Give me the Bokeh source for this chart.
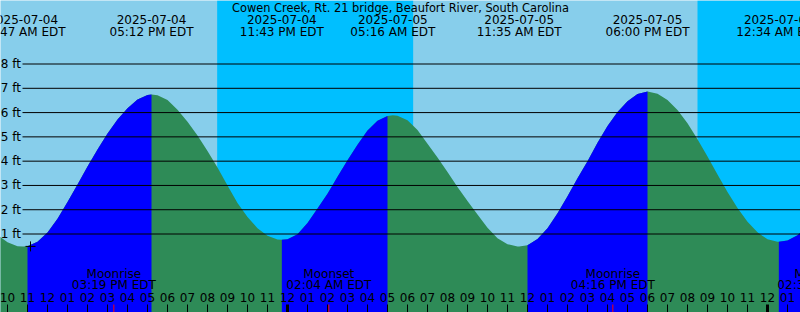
from datetime import datetime
import numpy as np
from bokeh.plotting import figure
from bokeh.models import Range1d
from bokeh.embed import file_html
from bokeh.resources import INLINE
from bokeh.core.properties import value

# ---------------- data ----------------
title_text = "Cowen Creek, Rt. 21 bridge, Beaufort River, South Carolina"

tide_times = ["2025-07-04 10:47", "2025-07-04 17:12", "2025-07-04 23:43",
              "2025-07-05 05:16", "2025-07-05 11:35", "2025-07-05 18:00",
              "2025-07-06 00:34"]
tide_heights = [0.49, 6.74, 0.76, 5.89, 0.49, 6.87, 0.68]

curve_start = "2025-07-04 09:30"
curve_step_minutes = 30
curve_heights = [
    0.97, 0.66, 0.50, 0.50, 0.68, 1.06, 1.63, 2.32, 3.04, 3.78, 4.48, 5.14,
    5.72, 6.18, 6.54, 6.72, 6.71, 6.52, 6.12, 5.62, 5.06, 4.42, 3.74, 3.00,
    2.28, 1.70, 1.24, 0.93, 0.77, 0.78, 0.99, 1.45, 2.05, 2.66, 3.36, 4.04,
    4.68, 5.26, 5.66, 5.86, 5.87, 5.68, 5.28, 4.72, 4.15, 3.55, 2.94, 2.36,
    1.80, 1.26, 0.83, 0.58, 0.49, 0.54, 0.79, 1.24, 1.86, 2.56, 3.30, 4.00,
    4.76, 5.45, 6.02, 6.47, 6.77, 6.87, 6.78, 6.52, 6.11, 5.56, 4.90, 4.19,
    3.45, 2.73, 2.07, 1.50, 1.07, 0.78, 0.68, 0.73, 0.95, 1.32,
]

night_starts = ["2025-07-04 20:29", "2025-07-05 20:30"]
night_ends = ["2025-07-05 06:17", "2025-07-06 06:18"]

moon_times = ["2025-07-04 15:19", "2025-07-05 02:04", "2025-07-05 16:16", "2025-07-06 02:37"]
moon_events = ["Moonrise", "Moonset", "Moonrise", "Moonset"]

now_time = "2025-07-04 11:09"
now_height = 0.49

ft_levels = [1, 2, 3, 4, 5, 6, 7, 8]
tick_hours = list(range(9, 51))  # hours since 2025-07-04 00:00

view_start = "2025-07-04 09:39"
view_hours = 40

# ---------------- helpers ----------------
ORIGIN = datetime(2025, 7, 4)


def parse(s):
    return datetime.strptime(s, "%Y-%m-%d %H:%M")


def hours(s):
    return (parse(s) - ORIGIN).total_seconds() / 3600.0


W, H = 800, 312
t0 = hours(view_start)
t1 = t0 + view_hours
px_per_hour = W / view_hours
px_per_ft = 24.2857
zero_px = 257.8
y_top = zero_px / px_per_ft
y_bot = y_top - H / px_per_ft
TXT_SHIFT = 4.5  # renderer baseline correction, pixels


def ypx(py):
    return y_top - py / px_per_ft


def tpx(py):
    return ypx(py - TXT_SHIFT)


def xpx(px):
    return t0 + px / px_per_hour


FONT = value("DejaVu Sans")

DAY = "#87CEEB"
NIGHT = "#00BFFF"
RISE = "#0000FF"
FALL = "#2E8B57"

p = figure(width=W, height=H, x_range=Range1d(t0, t1), y_range=Range1d(y_bot, y_top),
           output_backend="svg", toolbar_location=None, min_border=0,
           x_axis_type=None, y_axis_type=None,
           background_fill_color=DAY, border_fill_color=DAY, outline_line_color=None)
p.grid.visible = False

# night shading
p.quad(left=[hours(s) for s in night_starts], right=[hours(s) for s in night_ends],
       bottom=y_bot, top=y_top, fill_color=NIGHT, line_color=None)

# tide curve (samples merged with extremes)
c0 = hours(curve_start)
samp_t = [c0 + i * curve_step_minutes / 60.0 for i in range(len(curve_heights))]
ext_t = [hours(s) for s in tide_times]
pts = {}
for t, h in zip(samp_t, curve_heights):
    pts[round(t, 4)] = h
for t, h in zip(ext_t, tide_heights):
    pts[round(t, 4)] = h
all_t = np.array(sorted(pts))
all_h = np.array([pts[t] for t in all_t])

p.varea(x=all_t, y1=y_bot, y2=all_h, fill_color=FALL)
bt = [all_t[0]] + ext_t + [all_t[-1]]
bh = [all_h[0]] + tide_heights + [all_h[-1]]
for i in range(len(bt) - 1):
    if bh[i + 1] > bh[i]:
        m = (all_t >= bt[i] - 1e-6) & (all_t <= bt[i + 1] + 1e-6)
        p.varea(x=all_t[m], y1=y_bot, y2=all_h[m], fill_color=RISE)

# horizontal level lines + labels
p.segment(x0=xpx(22), x1=t1, y0=ft_levels, y1=ft_levels, line_color="black", line_width=1)
p.text(x=xpx(20.5), y=ft_levels, text=[f"{v} ft" for v in ft_levels],
       text_align="right", text_baseline="middle",
       text_font=FONT, text_font_size="12px", text_color="black")

# title and tide event labels
p.text(x=[(t0 + t1) / 2], y=[tpx(11.5)], text=[title_text], text_align="center",
       text_baseline="alphabetic", text_font=FONT, text_font_size="11.4px", text_color="black")
p.text(x=ext_t, y=tpx(23.6), text=[parse(s).strftime("%Y-%m-%d") for s in tide_times],
       text_align="center", text_baseline="alphabetic", text_font=FONT,
       text_font_size="12px", text_color="black")
p.text(x=ext_t, y=tpx(35.8), text=[parse(s).strftime("%I:%M %p EDT") for s in tide_times],
       text_align="center", text_baseline="alphabetic", text_font=FONT,
       text_font_size="12px", text_color="black")

# moon events
moon_t = [hours(s) for s in moon_times]
p.text(x=moon_t, y=tpx(277.8), text=moon_events, text_align="center",
       text_baseline="alphabetic", text_font=FONT, text_font_size="12px", text_color="black")
p.text(x=moon_t, y=tpx(289.4), text=[parse(s).strftime("%I:%M %p EDT") for s in moon_times],
       text_align="center", text_baseline="alphabetic", text_font=FONT,
       text_font_size="12px", text_color="black")

# hour ticks and labels
hour_labels = ["%02d" % ((h % 12) or 12) for h in tick_hours]
p.text(x=tick_hours, y=tpx(301.7), text=hour_labels, text_align="center",
       text_baseline="alphabetic", text_font=FONT, text_font_size="12px", text_color="black")
normal = [h for h in tick_hours if h % 24 != 0]
midn = [h for h in tick_hours if h % 24 == 0]
p.segment(x0=normal, x1=normal, y0=y_bot, y1=ypx(304), line_color="black", line_width=1)
p.segment(x0=midn, x1=midn, y0=y_bot, y1=ypx(304), line_color="black", line_width=3)
p.segment(x0=moon_t, x1=moon_t, y0=y_bot, y1=ypx(304), line_color="red", line_width=1)

# current time mark
p.scatter(x=[hours(now_time)], y=[now_height], marker="cross", size=10,
          line_color="black", line_width=1)

open("out.html", "w").write(file_html(p, INLINE))
